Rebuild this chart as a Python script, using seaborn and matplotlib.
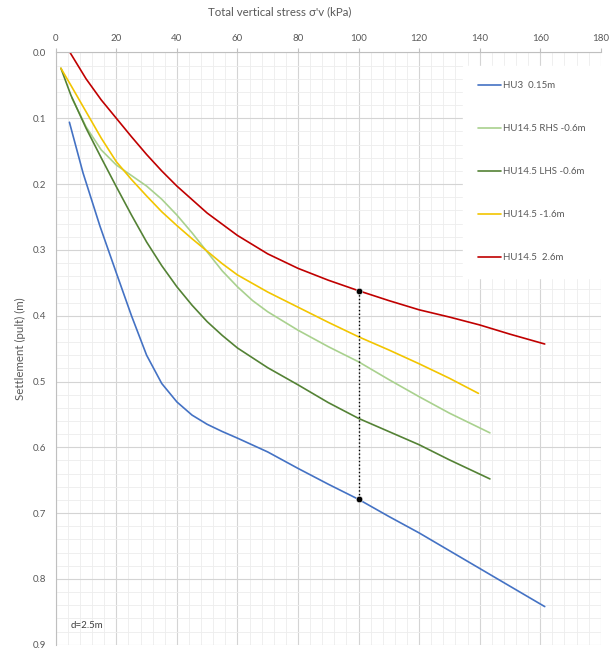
import numpy as np
import pandas as pd
import matplotlib
matplotlib.use('Agg')
import matplotlib.pyplot as plt
from matplotlib.ticker import MultipleLocator, FormatStrFormatter
import seaborn as sns

# settlement curves (stress in kPa, settlement in m)
hu3_x = [4.5, 9, 14.6, 20, 25, 30, 35, 40, 45, 50, 55, 60, 70, 80, 90, 100, 110, 120, 130, 140, 150, 161.5]
hu3_s = [0.106, 0.183, 0.264, 0.335, 0.400, 0.460, 0.503, 0.531, 0.551, 0.565, 0.576, 0.586, 0.607,
         0.632, 0.656, 0.679, 0.705, 0.730, 0.757, 0.784, 0.811, 0.842]

rhs_x = [5.3, 10, 15, 20, 25, 30, 35, 40, 45, 50, 55, 60, 65, 70, 80, 90, 100, 110, 120, 130, 143.4]
rhs_s = [0.069, 0.113, 0.148, 0.171, 0.187, 0.203, 0.223, 0.247, 0.274, 0.303, 0.332, 0.356, 0.377,
         0.394, 0.422, 0.447, 0.470, 0.497, 0.523, 0.548, 0.578]

lhs_x = [1.7, 5, 10, 15, 20, 25, 30, 35, 40, 45, 50, 55, 60, 70, 80, 90, 100, 110, 120, 130, 143.4]
lhs_s = [0.024, 0.065, 0.115, 0.160, 0.204, 0.247, 0.288, 0.324, 0.356, 0.384, 0.409, 0.430, 0.449,
         0.479, 0.505, 0.532, 0.556, 0.576, 0.596, 0.619, 0.648]

m16_x = [1.7, 5, 10, 15, 20, 25, 30, 35, 40, 45, 50, 55, 60, 70, 80, 90, 100, 110, 120, 130, 139.6]
m16_s = [0.024, 0.050, 0.090, 0.130, 0.166, 0.193, 0.218, 0.242, 0.263, 0.283, 0.302, 0.321, 0.338,
         0.364, 0.387, 0.410, 0.432, 0.452, 0.473, 0.495, 0.518]

p26_x = [4.7, 10, 15, 20, 25, 30, 35, 40, 50, 60, 70, 80, 90, 100, 110, 120, 130, 140, 150, 161.5]
p26_s = [0.0, 0.040, 0.072, 0.100, 0.128, 0.155, 0.180, 0.203, 0.244, 0.278, 0.306, 0.328, 0.346,
         0.362, 0.377, 0.391, 0.402, 0.414, 0.428, 0.443]

series_names = ['HU3  0.15m', 'HU14.5 RHS -0.6m', 'HU14.5 LHS -0.6m', 'HU14.5 -1.6m', 'HU14.5  2.6m']
series_colors = ['#4472C4', '#A9D18E', '#548235', '#F2C500', '#C00000']

# the two marked points at 100 kPa
mark_x = [100, 100]
mark_s = [0.362, 0.679]

frames = []
for name, xs, ss in zip(series_names,
                        [hu3_x, rhs_x, lhs_x, m16_x, p26_x],
                        [hu3_s, rhs_s, lhs_s, m16_s, p26_s]):
    frames.append(pd.DataFrame({'stress': xs, 'settlement': ss, 'series': name}))
df = pd.concat(frames, ignore_index=True)

sns.set_style('white')
plt.rcParams['font.family'] = ['Lato', 'DejaVu Sans']
plt.rcParams['lines.solid_joinstyle'] = 'round'

fig = plt.figure(figsize=(6.13, 6.48), dpi=100)
ax = fig.add_axes([0.091, 0.005, 0.889, 0.914])

sns.lineplot(data=df, x='stress', y='settlement', hue='series', hue_order=series_names,
             palette=series_colors, sort=False, estimator=None, linewidth=1.2, ax=ax)

ax.plot(mark_x, mark_s, color='black', linestyle=':', linewidth=1.0, zorder=4)
sns.scatterplot(x=mark_x, y=mark_s, color='black', s=22, zorder=5, ax=ax, legend=False)

ax.set_xlim(0, 180)
ax.set_ylim(0.9, 0.0)
ax.xaxis.tick_top()
ax.xaxis.set_label_position('top')
ax.xaxis.set_major_locator(MultipleLocator(20))
ax.xaxis.set_minor_locator(MultipleLocator(4))
ax.yaxis.set_major_locator(MultipleLocator(0.1))
ax.yaxis.set_minor_locator(MultipleLocator(0.02))
ax.yaxis.set_major_formatter(FormatStrFormatter('%.1f'))

ax.grid(which='major', color='#D4D4D4', linewidth=0.8)
ax.grid(which='minor', color='#EDEDED', linewidth=0.6)
ax.set_axisbelow(True)

ax.tick_params(which='major', length=3, color='#BFBFBF', labelsize=7, labelcolor='#595959', pad=4)
ax.tick_params(which='minor', length=0)
for side in ['left', 'top']:
    ax.spines[side].set_color('#BFBFBF')
for side in ['right', 'bottom']:
    ax.spines[side].set_visible(False)

ax.set_xlabel("Total vertical stress σ'v (kPa)", fontsize=8.3, color='#595959')
ax.xaxis.set_label_coords(0.41, 1.062)
ax.set_ylabel('Settlement (pult) (m)', fontsize=8.3, color='#595959', labelpad=5)

ax.text(5, 0.875, 'd=2.5m', fontsize=7, color='#404040')

leg = ax.legend(loc='upper right', bbox_to_anchor=(1.0, 0.978), fontsize=7, frameon=True,
                handlelength=2.3, handletextpad=0.2, labelspacing=3.5,
                borderpad=1.6, borderaxespad=0.0, fancybox=False)
leg.get_frame().set_facecolor('white')
leg.get_frame().set_edgecolor('white')
leg.get_frame().set_alpha(1.0)
for t in leg.get_texts():
    t.set_color('#595959')
for h in leg.get_lines():
    h.set_linewidth(1.2)

plt.savefig('out.png', dpi=100)
